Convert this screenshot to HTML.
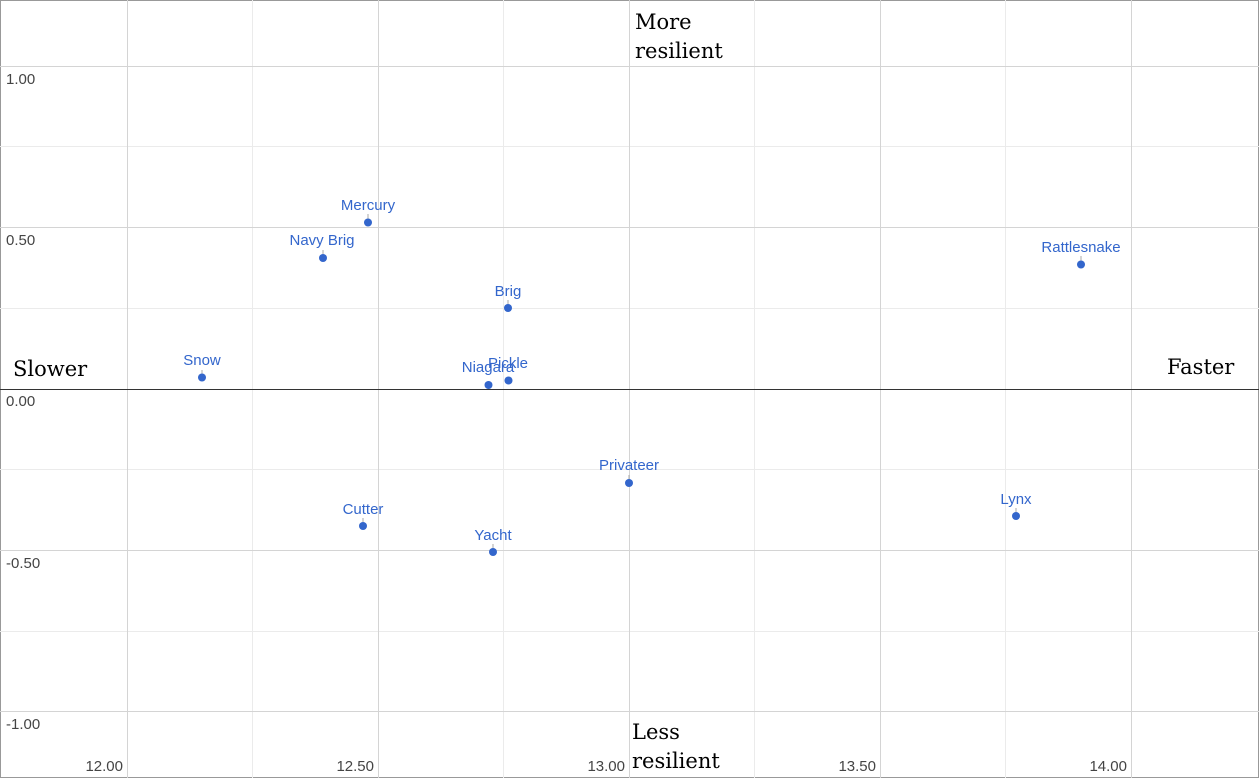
<!DOCTYPE html>
<html><head><meta charset="utf-8"><style>
html,body{margin:0;padding:0;background:#fff;}
svg{display:block;}
.t{font-family:"Liberation Sans",sans-serif;font-size:15px;fill:#444;}
.p{font-family:"Liberation Sans",sans-serif;font-size:15px;fill:#3366cc;text-anchor:middle;}
.s{font-family:"DejaVu Serif",serif;font-size:21px;fill:#000;}
</style></head><body>
<svg width="1259" height="778" viewBox="0 0 1259 778">
<rect x="0.5" y="0.5" width="1258" height="777" fill="#fff" stroke="#999"/>
<g stroke="#ebebeb" stroke-width="1">
<line x1="252.5" y1="0" x2="252.5" y2="778"/><line x1="503.5" y1="0" x2="503.5" y2="778"/>
<line x1="754.5" y1="0" x2="754.5" y2="778"/><line x1="1005.5" y1="0" x2="1005.5" y2="778"/>
<line x1="0" y1="146.5" x2="1259" y2="146.5"/><line x1="0" y1="308.5" x2="1259" y2="308.5"/>
<line x1="0" y1="469.5" x2="1259" y2="469.5"/><line x1="0" y1="631.5" x2="1259" y2="631.5"/>
</g>
<g stroke="#d4d4d4" stroke-width="1">
<line x1="127.5" y1="0" x2="127.5" y2="778"/><line x1="378.5" y1="0" x2="378.5" y2="778"/>
<line x1="629.5" y1="0" x2="629.5" y2="778"/><line x1="880.5" y1="0" x2="880.5" y2="778"/>
<line x1="1131.5" y1="0" x2="1131.5" y2="778"/>
<line x1="0" y1="66.5" x2="1259" y2="66.5"/><line x1="0" y1="227.5" x2="1259" y2="227.5"/>
<line x1="0" y1="550.5" x2="1259" y2="550.5"/><line x1="0" y1="711.5" x2="1259" y2="711.5"/>
</g>
<line x1="0" y1="389.5" x2="1259" y2="389.5" stroke="#333" stroke-width="1"/>
<text class="t" x="6" y="84">1.00</text>
<text class="t" x="6" y="245">0.50</text>
<text class="t" x="6" y="406">0.00</text>
<text class="t" x="6" y="568">-0.50</text>
<text class="t" x="6" y="729">-1.00</text>
<g class="t" text-anchor="end">
<text x="123" y="771">12.00</text><text x="374" y="771">12.50</text>
<text x="625" y="771">13.00</text><text x="876" y="771">13.50</text>
<text x="1127" y="771">14.00</text>
</g>
<g stroke="#aaa" stroke-width="1">
<line x1="202" y1="370" x2="202" y2="377"/><line x1="323" y1="250" x2="323" y2="258"/>
<line x1="368" y1="214" x2="368" y2="222"/><line x1="508" y1="300" x2="508" y2="308"/>
<line x1="1081" y1="256" x2="1081" y2="264"/><line x1="629" y1="475" x2="629" y2="483"/>
<line x1="363" y1="518" x2="363" y2="526"/><line x1="493" y1="544" x2="493" y2="552"/>
<line x1="1016" y1="508" x2="1016" y2="516"/>
</g>
<g fill="#3366cc">
<circle cx="202" cy="377.5" r="4"/><circle cx="323" cy="258" r="4"/><circle cx="368" cy="222.5" r="4"/>
<circle cx="508" cy="308" r="4"/><circle cx="488.5" cy="385" r="4"/><circle cx="508.5" cy="380.5" r="4"/>
<circle cx="1081" cy="264.5" r="4"/><circle cx="629" cy="483" r="4"/><circle cx="363" cy="526" r="4"/>
<circle cx="493" cy="552" r="4"/><circle cx="1016" cy="516" r="4"/>
</g>
<text class="p" x="202" y="365">Snow</text>
<text class="p" x="322" y="245">Navy Brig</text>
<text class="p" x="368" y="210">Mercury</text>
<text class="p" x="508" y="296">Brig</text>
<text class="p" x="508" y="368">Pickle</text>
<text class="p" x="488" y="372">Niagara</text>
<text class="p" x="1081" y="252">Rattlesnake</text>
<text class="p" x="629" y="470">Privateer</text>
<text class="p" x="363" y="514">Cutter</text>
<text class="p" x="493" y="540">Yacht</text>
<text class="p" x="1016" y="504">Lynx</text>
<text class="s" x="635" y="29">More</text>
<text class="s" x="635" y="58">resilient</text>
<text class="s" x="13" y="376">Slower</text>
<text class="s" x="1167" y="374">Faster</text>
<text class="s" x="632" y="739">Less</text>
<text class="s" x="632" y="768">resilient</text>
</svg>
</body></html>
